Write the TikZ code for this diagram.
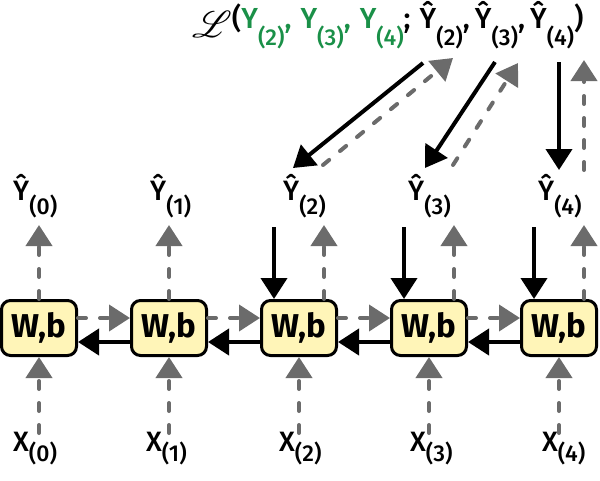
\documentclass[tikz,border=0pt]{standalone}
\usepackage{fontspec}
\setmainfont{Fira Sans}[UprightFont={* Medium}, BoldFont={* Bold}]
\usepackage{mathrsfs}
\usetikzlibrary{arrows.meta}
\definecolor{boxfill}{HTML}{FFF5B8}
\definecolor{dgray}{HTML}{6B6B6B}
\definecolor{lossgreen}{HTML}{1A9048}
\newcommand\subl[2]{\raisebox{-#1pt}{\fontsize{23}{23}\selectfont(#2)}}
\newcommand\sep{,\hspace{9pt}}
\newcommand\sepb{,\hspace{5pt}}
\tikzset{
  cell/.style={draw=black, line width=3pt, rounded corners=9pt, fill=boxfill,
    minimum width=75pt, minimum height=55pt, inner sep=0pt,
    font=\fontsize{33}{33}\selectfont\bfseries},
  gar/.style={draw=dgray, line width=4pt, dash pattern=on 8pt off 14pt, line cap=round,
    -{Triangle[length=21pt,width=26pt]}},
  bar/.style={draw=black, line width=4pt, -{Triangle[length=21pt,width=26pt]}},
  lab/.style={anchor=base west, inner sep=0pt, font=\fontsize{28}{28}\selectfont},
}
\begin{document}
\begin{tikzpicture}[x=1pt,y=-1pt]
\useasboundingbox (0,0) rectangle (600,480);
% boxes
\foreach \i in {0,...,4}{
  \node[cell] (b\i) at ({39+130*\i},328) {W,b};
}
% horizontal connectors
\foreach \i/\j in {0/1,1/2,2/3,3/4}{
  \draw[gar] ([yshift=10pt]b\i.east) -- ([yshift=10pt]b\j.west);
  \draw[bar] ([yshift=-14pt]b\j.west) -- ([yshift=-14pt]b\i.east);
}
% output labels
\node[lab] (y0) at (13,200) {Ŷ\subl{14}{0}};
\node[lab] (y1) at (150,200) {Ŷ\subl{14}{1}};
\node[lab] (y2) at (283,200) {Ŷ\subl{14}{2}};
\node[lab] (y3) at (408,200) {Ŷ\subl{14}{3}};
\node[lab] (y4) at (538,200) {Ŷ\subl{14}{4}};
% input labels
\node[lab] (x0) at (13,451) {X\subl{10}{0}};
\node[lab] (x1) at (146,451) {X\subl{10}{1}};
\node[lab] (x2) at (279,451) {X\subl{10}{2}};
\node[lab] (x3) at (410,451) {X\subl{10}{3}};
\node[lab] (x4) at (542,451) {X\subl{10}{4}};
% input arrows
\foreach \i in {0,...,4}{
  \coordinate (in\i) at ({39+130*\i},433);
  \draw[gar] (in\i) -- (b\i.south);
}
% output arrows for first two cells
\foreach \i in {0,1}{
  \coordinate (out\i) at ({39+130*\i},225);
  \draw[gar] (b\i.north) -- (out\i);
}
% output arrows for cells 2..4
\foreach \i in {2,3,4}{
  \coordinate (go\i) at ({39+130*\i+25},225);
  \coordinate (bi\i) at ({39+130*\i-25},227);
  \draw[gar] (b\i.north -| go\i) -- (go\i);
  \draw[bar] (bi\i) -- (b\i.north -| bi\i);
}
% loss
\node[lab, font=\fontsize{29}{29}\selectfont] (loss) at (192,28)
  {\raisebox{-9pt}{\scalebox{1.5}{$\mathscr{L}$}}(\textcolor{lossgreen}{Y\subl{17}{2}\sep Y\subl{17}{3}\sep Y\subl{17}{4}};\hspace{9pt}Ŷ\subl{17}{2}\sepb Ŷ\subl{17}{3}\sepb Ŷ\subl{17}{4})};
\coordinate (l2a) at (423,63);
\coordinate (l2b) at (293,168);
\coordinate (l2c) at (323,165);
\coordinate (l2d) at (453,58);
\coordinate (l3a) at (495,62);
\coordinate (l3b) at (425,168);
\coordinate (l3c) at (453,165);
\coordinate (l3d) at (518,63);
\coordinate (l4a) at (559,62);
\coordinate (l4b) at (559,170);
\coordinate (l4c) at (584,170);
\coordinate (l4d) at (584,60);
\draw[bar] (l2a) -- (l2b);
\draw[gar] (l2c) -- (l2d);
\draw[bar] (l3a) -- (l3b);
\draw[gar] (l3c) -- (l3d);
\draw[bar] (l4a) -- (l4b);
\draw[gar] (l4c) -- (l4d);
\end{tikzpicture}
\end{document}
